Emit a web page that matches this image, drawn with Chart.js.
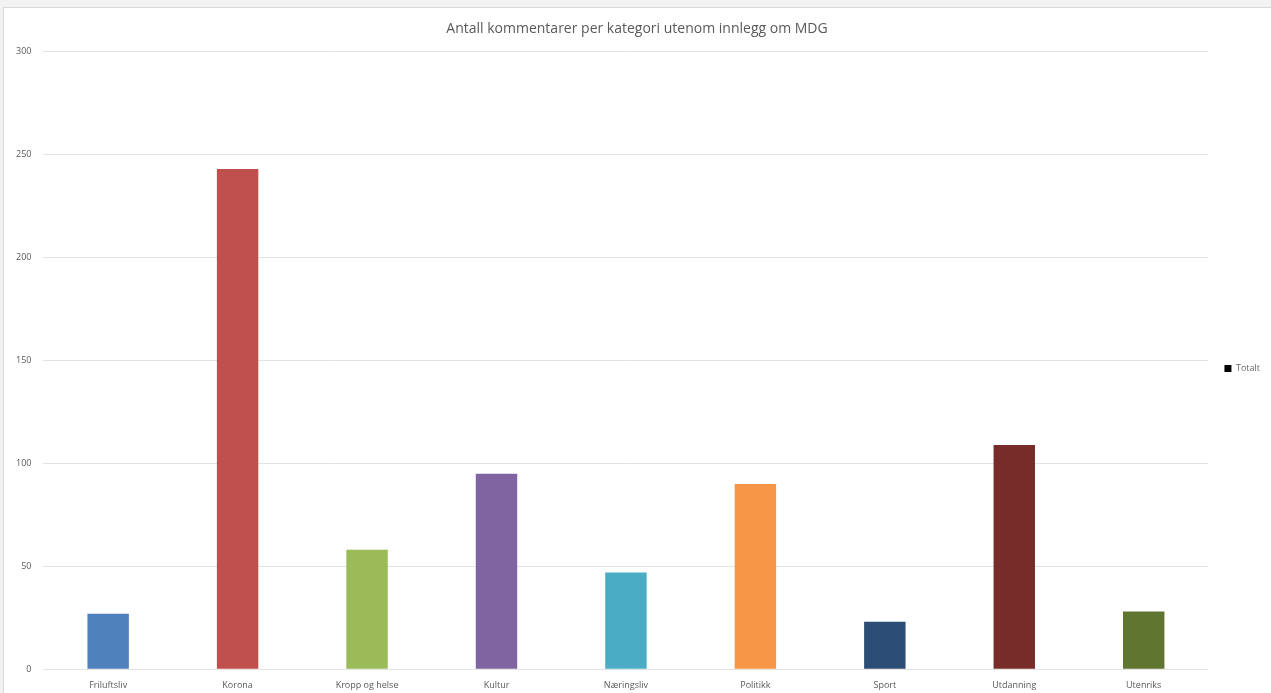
<!DOCTYPE html>
<html lang="no">
<head>
    <meta charset="UTF-8">
    <title>Antall kommentarer</title>
    <style>
        body {
            margin: 0;
            padding: 0;
            background-color: #f2f2f2;
            font-family: "Open Sans", Arial, sans-serif;
        }
        .card {
            position: absolute;
            left: 3px;
            top: 7px;
            width: 1268px;
            height: 686px;
            background: white;
            border-left: 1px solid #d9d9d9;
            border-top: 1px solid #d9d9d9;
        }
    </style>
    <script src="https://cdn.jsdelivr.net/npm/chart.js"></script>
</head>
<body>
    <div class="card">
        <canvas id="chartCanvas"></canvas>
    </div>
    <script>
        const categories = ['Friluftsliv', 'Korona', 'Kropp og helse', 'Kultur', 'Næringsliv', 'Politikk', 'Sport', 'Utdanning', 'Utenriks'];
        const totals = [27, 243, 58, 95, 47, 90, 23, 109, 28];
        const barColors = ['#4f81bd', '#c0504d', '#9bbb59', '#8064a2', '#4bacc6', '#f79646', '#2c4d75', '#772c2a', '#5f7530'];
        const yTicks = [0, 50, 100, 150, 200, 250, 300];

        const textColor = '#595959';
        const gridColor = '#e3e3e3';

        const ctx = document.getElementById('chartCanvas').getContext('2d');
        new Chart(ctx, {
            type: 'bar',
            data: {
                labels: categories,
                datasets: [{
                    label: 'Totalt',
                    data: totals,
                    backgroundColor: barColors,
                    borderWidth: 0,
                    categoryPercentage: 1,
                    barPercentage: 0.32
                }]
            },
            options: {
                responsive: true,
                maintainAspectRatio: false,
                animation: false,
                layout: {
                    padding: { left: 0, right: 2, top: 0, bottom: 0 }
                },
                plugins: {
                    title: {
                        display: true,
                        text: 'Antall kommentarer per kategori utenom innlegg om MDG',
                        color: textColor,
                        font: { family: 'Open Sans', size: 14, weight: 'normal' },
                        padding: { top: 13, bottom: 14 }
                    },
                    legend: {
                        position: 'right',
                        // empty title only pushes the entry a bit lower, like the original
                        title: { display: true, text: ' ', padding: 12, font: { size: 9 } },
                        labels: {
                            color: textColor,
                            boxWidth: 7,
                            boxHeight: 7,
                            padding: 16,
                            font: { family: 'Open Sans', size: 9 },
                            generateLabels: () => [{ text: 'Totalt', fillStyle: '#000', strokeStyle: '#000', lineWidth: 0 }]
                        }
                    },
                    tooltip: { enabled: false }
                },
                scales: {
                    x: {
                        grid: { display: false },
                        border: { display: false },
                        ticks: {
                            color: textColor,
                            font: { family: 'Open Sans', size: 9 },
                            maxRotation: 0,
                            autoSkip: false,
                            padding: 3
                        }
                    },
                    y: {
                        min: 0,
                        max: 300,
                        afterBuildTicks: axis => { axis.ticks = yTicks.map(v => ({ value: v })); },
                        grid: { color: gridColor, drawTicks: false },
                        border: { display: false },
                        ticks: {
                            color: textColor,
                            font: { family: 'Open Sans', size: 9 },
                            padding: 12
                        }
                    }
                }
            }
        });
    </script>
</body>
</html>
